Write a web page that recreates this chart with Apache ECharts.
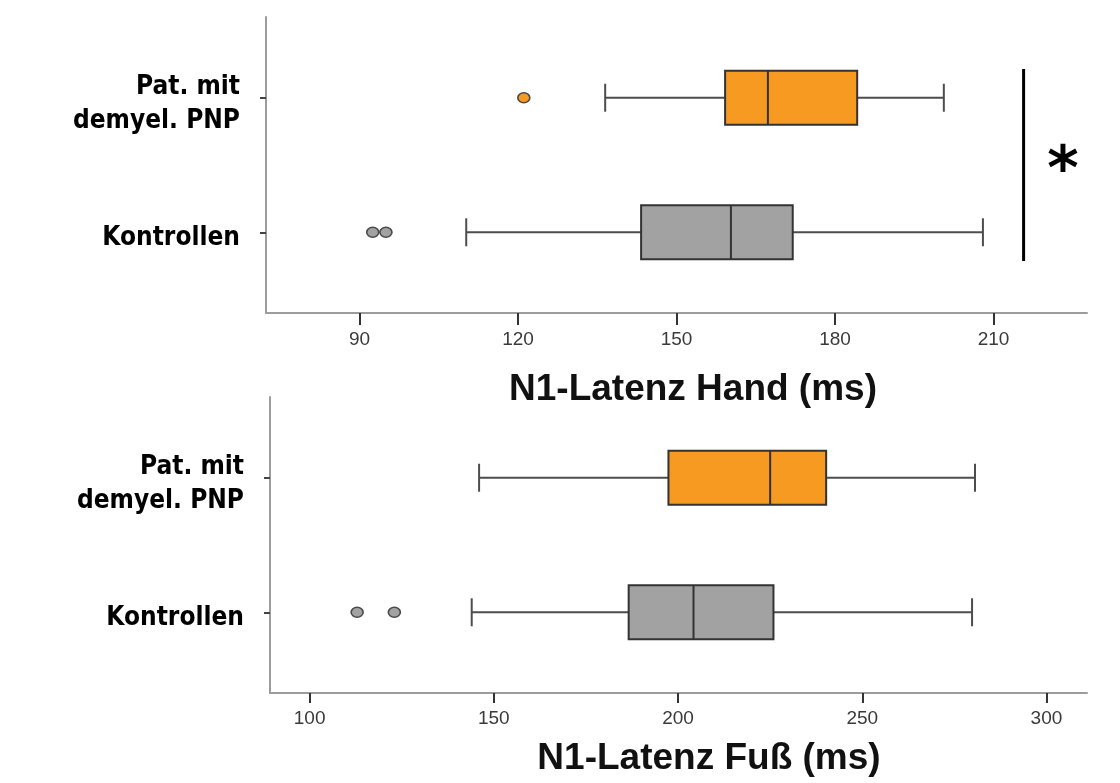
<!DOCTYPE html>
<html>
<head>
<meta charset="utf-8">
<script src="https://cdn.jsdelivr.net/npm/echarts@6/dist/echarts.min.js"></script>
<style>
  html, body { margin: 0; padding: 0; background: #fff; }
  #chart { width: 1120px; height: 783px; }
</style>
</head>
<body>
<div id="chart"></div>
<script>
// Groups, bottom to top on each y axis (1 = Kontrollen, 2 = patients)
const groupLabels = ['Kontrollen', 'Pat. mit\ndemyel. PNP'];

// N1 latency, hand (ms): [low whisker, Q1, median, Q3, high whisker]
const handKontrollen = [110.2, 143.3, 160.3, 172.0, 208.0];
const handPatienten = [136.5, 159.2, 167.3, 184.2, 200.6];
const handOutliersKontrollen = [92.5, 95.0];
const handOutliersPatienten = [121.1];
const handTicks = [90, 120, 150, 180, 210];

// N1 latency, foot (ms)
const fussKontrollen = [144.0, 186.6, 204.2, 225.9, 279.8];
const fussPatienten = [146.0, 197.4, 225.0, 240.2, 280.6];
const fussOutliersKontrollen = [112.9, 123.0];
const fussOutliersPatienten = [];
const fussTicks = [100, 150, 200, 250, 300];

// Significance bracket for the hand panel
const sigLatency = 215.7;
const sigSpan = [0.787, 2.214];

const ORANGE = '#f69a22';
const GREY = '#a2a2a2';
const LABEL_FONT = "'DejaVu Sans Condensed', 'DejaVu Sans'";
// group labels sit a little below their tick marks
const LABEL_DROP = 0.045;

const chart = echarts.init(document.getElementById('chart'), null, { renderer: 'canvas' });

function renderBox(params, api) {
  const cat = api.value(0);
  const lo = api.coord([api.value(1), cat]);
  const q1 = api.coord([api.value(2), cat]);
  const md = api.coord([api.value(3), cat]);
  const q3 = api.coord([api.value(4), cat]);
  const hi = api.coord([api.value(5), cat]);
  const unit = api.size([0, 1])[1];
  const half = unit * 0.2;
  const cap = unit * 0.104;
  const y = md[1];
  const fill = api.visual('color');
  const whisker = { stroke: '#4d4d4d', lineWidth: 2 };
  return {
    type: 'group',
    children: [
      { type: 'line', shape: { x1: lo[0], y1: y, x2: q1[0], y2: y }, style: whisker },
      { type: 'line', shape: { x1: q3[0], y1: y, x2: hi[0], y2: y }, style: whisker },
      { type: 'line', shape: { x1: lo[0], y1: y - cap, x2: lo[0], y2: y + cap }, style: whisker },
      { type: 'line', shape: { x1: hi[0], y1: y - cap, x2: hi[0], y2: y + cap }, style: whisker },
      { type: 'rect', shape: { x: q1[0], y: y - half, width: q3[0] - q1[0], height: half * 2 },
        style: { fill: fill, stroke: '#333', lineWidth: 2 } },
      { type: 'line', shape: { x1: md[0], y1: y - half, x2: md[0], y2: y + half },
        style: { stroke: '#333', lineWidth: 2 } }
    ]
  };
}

function boxData(kontrollen, patienten) {
  return [
    { value: [1].concat(kontrollen), itemStyle: { color: GREY } },
    { value: [2].concat(patienten), itemStyle: { color: ORANGE } }
  ];
}

function outlierData(kontrollen, patienten) {
  return kontrollen.map(v => ({ value: [v, 1], itemStyle: { color: GREY } }))
    .concat(patienten.map(v => ({ value: [v, 2], itemStyle: { color: ORANGE } })));
}

function xAxisFor(gridIndex, min, max, ticks, tickLen, labelMargin) {
  return {
    type: 'value', gridIndex: gridIndex, min: min, max: max,
    splitLine: { show: false },
    axisLine: { show: true, onZero: false, lineStyle: { color: '#9c9c9c', width: 2 } },
    axisTick: { show: true, customValues: ticks, length: tickLen, lineStyle: { color: '#333', width: 2 } },
    axisLabel: { show: true, customValues: ticks, margin: labelMargin,
      fontFamily: 'Liberation Sans', fontSize: 19, color: '#3a3a3a' }
  };
}

function yAxisFor(gridIndex) {
  return {
    type: 'value', gridIndex: gridIndex, min: 0.4, max: 2.6,
    splitLine: { show: false },
    axisLine: { show: true, onZero: false, lineStyle: { color: '#9c9c9c', width: 2 } },
    axisTick: { show: true, customValues: [1, 2], length: 6, lineStyle: { color: '#444', width: 2 } },
    axisLabel: { show: true, customValues: [1 - LABEL_DROP, 2 - LABEL_DROP], margin: 26,
      formatter: v => groupLabels[Math.round(v) - 1],
      fontFamily: LABEL_FONT, fontWeight: 'bold', fontSize: 26, lineHeight: 34,
      color: '#000', align: 'right' }
  };
}

const titleStyle = {
  fontFamily: 'Liberation Sans', fontWeight: 'bold', fontSize: 37,
  fill: '#111', align: 'center', verticalAlign: 'middle'
};

const option = {
  animation: false,
  backgroundColor: '#fff',
  grid: [
    { left: 266, top: 17, width: 821, height: 296 },
    { left: 270, top: 397, width: 817, height: 296 }
  ],
  xAxis: [
    xAxisFor(0, 72.3, 227.7, handTicks, 12, 17),
    xAxisFor(1, 89.25, 311, fussTicks, 10, 16)
  ],
  yAxis: [yAxisFor(0), yAxisFor(1)],
  graphic: [
    { type: 'text', x: 693, y: 390, style: Object.assign({ text: 'N1-Latenz Hand (ms)' }, titleStyle) },
    { type: 'text', x: 709, y: 759, style: Object.assign({ text: 'N1-Latenz Fuß (ms)' }, titleStyle) },
    { type: 'text', x: 1063, y: 173,
      style: { text: '*', fontFamily: 'DejaVu Sans', fontWeight: 'bold', fontSize: 60,
        fill: '#000', align: 'center', verticalAlign: 'middle' } }
  ],
  series: [
    { type: 'custom', xAxisIndex: 0, yAxisIndex: 0, renderItem: renderBox,
      encode: { x: [1, 2, 3, 4, 5], y: 0 }, data: boxData(handKontrollen, handPatienten) },
    { type: 'custom', xAxisIndex: 1, yAxisIndex: 1, renderItem: renderBox,
      encode: { x: [1, 2, 3, 4, 5], y: 0 }, data: boxData(fussKontrollen, fussPatienten) },
    { type: 'scatter', xAxisIndex: 0, yAxisIndex: 0, symbol: 'circle', symbolSize: [12, 10],
      itemStyle: { borderColor: '#4a4a4a', borderWidth: 1.5, opacity: 1 },
      data: outlierData(handOutliersKontrollen, handOutliersPatienten) },
    { type: 'scatter', xAxisIndex: 1, yAxisIndex: 1, symbol: 'circle', symbolSize: [12, 10],
      itemStyle: { borderColor: '#4a4a4a', borderWidth: 1.5, opacity: 1 },
      data: outlierData(fussOutliersKontrollen, fussOutliersPatienten) },
    { type: 'line', xAxisIndex: 0, yAxisIndex: 0, symbol: 'none',
      lineStyle: { color: '#000', width: 3 },
      data: [[sigLatency, sigSpan[0]], [sigLatency, sigSpan[1]]] }
  ]
};

chart.setOption(option);
</script>
</body>
</html>
